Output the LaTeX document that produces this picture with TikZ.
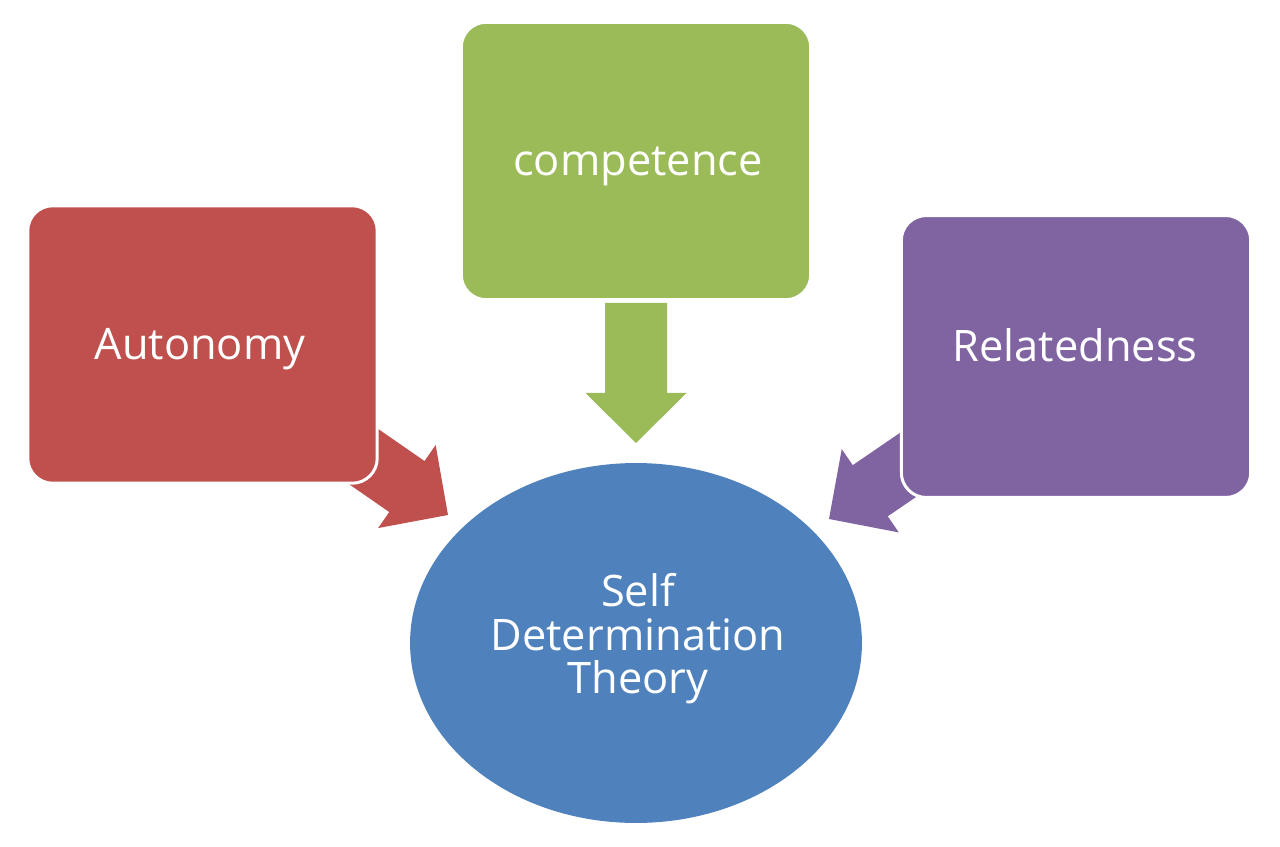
\documentclass[tikz,border=0pt]{standalone}
\usepackage{fontspec}
\setmainfont{Open Sans}
\usetikzlibrary{shapes.geometric}
\definecolor{cred}{HTML}{C0504D}
\definecolor{cgreen}{HTML}{9BBB59}
\definecolor{cpurple}{HTML}{8064A2}
\definecolor{cblue}{HTML}{4F81BD}
\begin{document}
\begin{tikzpicture}[x=0.02cm,y=-0.02cm,
  box/.style={rectangle, rounded corners=0.5cm, draw=white, line width=1.7pt,
    minimum width=6.99cm, minimum height=5.55cm, inner sep=0pt},
  lbl/.style={text=white, font=\fontsize{24.7}{24.7}\selectfont, align=center, inner sep=0pt},
  pics/barrow/.style args={#1/#2}{code={
    \fill[#2] (0,0) -- (-50,50.5) -- (-50,31) -- (-#1,31) -- (-#1,-31)
      -- (-50,-31) -- (-50,-50.5) -- cycle;}}]
\useasboundingbox (0,0) rectangle (1280,847);
% arrow tips
\coordinate (tipA) at (448,515);
\coordinate (tipC) at (636,443);
\coordinate (tipR) at (829,519);
% block arrows
\pic[rotate=-34.7] at (tipA) {barrow=140/cred};
\pic[rotate=-90] at (tipC) {barrow=140/cgreen};
\pic[rotate=-145.6] at (tipR) {barrow=140/cpurple};
% boxes
\node[box, fill=cred] (aut) at (202.5,344.5) {};
\node[box, fill=cgreen] (com) at (636,161) {};
\node[box, fill=cpurple, minimum height=5.64cm] (rel) at (1076,356.5) {};
% ellipse
\node[ellipse, fill=cblue, minimum width=9.04cm, minimum height=7.2cm, inner sep=0pt] (sdt) at (636,643) {};
% texts
\node[lbl, anchor=base] (autt) at (200,360) {Autonomy};
\node[lbl, anchor=base] (comt) at (638,176) {competence};
\node[lbl, anchor=base] (relt) at (1075,362) {Relatedness};
\node[lbl] (sdtt) at (638,639) {Self\\Determination\\Theory};
\end{tikzpicture}
\end{document}
